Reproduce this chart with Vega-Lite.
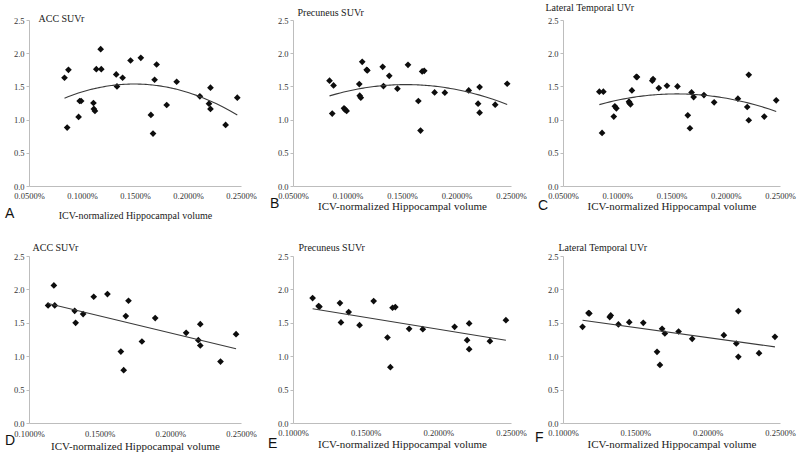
{
  "$schema": "https://vega.github.io/schema/vega-lite/v6.json",
  "background": "white",
  "padding": {"left": 5, "top": 2, "right": 2, "bottom": 2},
  "columns": 3,
  "bounds": "flush",
  "spacing": {"row": 70, "column": 52},
  "datasets": {
    "subj": [
      {"hv": 0.000835, "acc": 1.63, "prec": 1.586, "lat": 1.42},
      {"hv": 0.000860, "acc": 0.88, "prec": 1.09, "lat": 0.80},
      {"hv": 0.000872, "acc": 1.75, "prec": 1.515, "lat": 1.42},
      {"hv": 0.000968, "acc": 1.04, "prec": 1.17, "lat": 1.045},
      {"hv": 0.000978, "acc": 1.28, "prec": 1.15, "lat": 1.20},
      {"hv": 0.000992, "acc": 1.28, "prec": 1.13, "lat": 1.17},
      {"hv": 0.001108, "acc": 1.25, "prec": 1.535, "lat": 1.27},
      {"hv": 0.001112, "acc": 1.16, "prec": 1.36, "lat": 1.25},
      {"hv": 0.001122, "acc": 1.13, "prec": 1.33, "lat": 1.23},
      {"hv": 0.001135, "acc": 1.76, "prec": 1.87, "lat": 1.44},
      {"hv": 0.001176, "acc": 2.06, "prec": 1.75, "lat": 1.645},
      {"hv": 0.001182, "acc": 1.76, "prec": 1.74, "lat": 1.64},
      {"hv": 0.001323, "acc": 1.68, "prec": 1.795, "lat": 1.585},
      {"hv": 0.001330, "acc": 1.50, "prec": 1.505, "lat": 1.61},
      {"hv": 0.001383, "acc": 1.63, "prec": 1.66, "lat": 1.475},
      {"hv": 0.001458, "acc": 1.89, "prec": 1.465, "lat": 1.51},
      {"hv": 0.001555, "acc": 1.93, "prec": 1.825, "lat": 1.50},
      {"hv": 0.001650, "acc": 1.07, "prec": 1.28, "lat": 1.065},
      {"hv": 0.001670, "acc": 0.79, "prec": 0.835, "lat": 0.87},
      {"hv": 0.001685, "acc": 1.60, "prec": 1.725, "lat": 1.41},
      {"hv": 0.001704, "acc": 1.83, "prec": 1.735, "lat": 1.34},
      {"hv": 0.001799, "acc": 1.22, "prec": 1.41, "lat": 1.37},
      {"hv": 0.001893, "acc": 1.57, "prec": 1.405, "lat": 1.26},
      {"hv": 0.002112, "acc": 1.35, "prec": 1.44, "lat": 1.315},
      {"hv": 0.002198, "acc": 1.24, "prec": 1.24, "lat": 1.19},
      {"hv": 0.002212, "acc": 1.48, "prec": 1.49, "lat": 1.675},
      {"hv": 0.002212, "acc": 1.16, "prec": 1.105, "lat": 0.99},
      {"hv": 0.002355, "acc": 0.92, "prec": 1.225, "lat": 1.045},
      {"hv": 0.002465, "acc": 1.33, "prec": 1.54, "lat": 1.29}
    ]
  },
  "concat": [
    {
      "width": 212, "height": 166,
      "data": {"name": "subj"},
      "title": {"text": "A", "orient": "bottom", "anchor": "start", "frame": "group", "dx": -24, "offset": -14},
      "encoding": {
        "x": {"field": "hv", "type": "quantitative", "scale": {"domain": [0.0005, 0.0025], "nice": false, "zero": false},
              "axis": {"values": [0.0005, 0.001, 0.0015, 0.002, 0.0025], "format": ".4%", "title": "ICV-normalized Hippocampal volume", "titleFontSize": 10, "labelPadding": 5, "titlePadding": 11}},
        "y": {"field": "acc", "type": "quantitative", "scale": {"domain": [0, 2.5], "nice": false},
              "axis": {"values": [0, 0.5, 1, 1.5, 2, 2.5], "format": ".1f", "title": "ACC SUVr", "titleX": 9, "titleY": -2}}
      },
      "layer": [
        {"mark": {"type": "point", "shape": "diamond", "filled": true, "size": 45, "color": "#0d0d0d", "opacity": 1}},
        {"transform": [{"regression": "acc", "on": "hv", "method": "poly", "order": 2}],
         "mark": {"type": "line", "color": "#3a3a3a", "strokeWidth": 1.1}}
      ]
    },
    {
      "width": 218, "height": 166,
      "data": {"name": "subj"},
      "title": {"text": "B", "orient": "bottom", "anchor": "start", "frame": "group", "dx": -23, "offset": -14},
      "encoding": {
        "x": {"field": "hv", "type": "quantitative", "scale": {"domain": [0.0005, 0.0025], "nice": false, "zero": false},
              "axis": {"values": [0.0005, 0.001, 0.0015, 0.002, 0.0025], "format": ".4%", "title": "ICV-normalized Hippocampal volume", "labelPadding": 5.5, "titlePadding": 0}},
        "y": {"field": "prec", "type": "quantitative", "scale": {"domain": [0, 2.5], "nice": false},
              "axis": {"values": [0, 0.5, 1, 1.5, 2, 2.5], "format": ".1f", "title": "Precuneus SUVr", "titleX": 4, "titleY": -8}}
      },
      "layer": [
        {"mark": {"type": "point", "shape": "diamond", "filled": true, "size": 45, "color": "#0d0d0d", "opacity": 1}},
        {"transform": [{"regression": "prec", "on": "hv", "method": "poly", "order": 2}],
         "mark": {"type": "line", "color": "#3a3a3a", "strokeWidth": 1.1}}
      ]
    },
    {
      "width": 217, "height": 166,
      "data": {"name": "subj"},
      "title": {"text": "C", "orient": "bottom", "anchor": "start", "frame": "group", "dx": -25, "offset": -12},
      "encoding": {
        "x": {"field": "hv", "type": "quantitative", "scale": {"domain": [0.0005, 0.0025], "nice": false, "zero": false},
              "axis": {"values": [0.0005, 0.001, 0.0015, 0.002, 0.0025], "format": ".4%", "title": "ICV-normalized Hippocampal volume", "labelPadding": 5.5, "titlePadding": 0}},
        "y": {"field": "lat", "type": "quantitative", "scale": {"domain": [0, 2.5], "nice": false},
              "axis": {"values": [0, 0.5, 1, 1.5, 2, 2.5], "format": ".1f", "title": "Lateral Temporal  UVr", "titleX": -18, "titleY": -13}}
      },
      "layer": [
        {"mark": {"type": "point", "shape": "diamond", "filled": true, "size": 45, "color": "#0d0d0d", "opacity": 1}},
        {"transform": [{"regression": "lat", "on": "hv", "method": "poly", "order": 2}],
         "mark": {"type": "line", "color": "#3a3a3a", "strokeWidth": 1.1}}
      ]
    },
    {
      "width": 212, "height": 167,
      "data": {"name": "subj"},
      "transform": [{"filter": "datum.hv >= 0.00113"}],
      "title": {"text": "D", "orient": "bottom", "anchor": "start", "frame": "group", "dx": -24, "offset": -18},
      "encoding": {
        "x": {"field": "hv", "type": "quantitative", "scale": {"domain": [0.001, 0.0025], "nice": false, "zero": false},
              "axis": {"values": [0.001, 0.0015, 0.002, 0.0025], "format": ".4%", "title": "ICV-normalized Hippocampal volume", "labelPadding": 6, "titlePadding": 3}},
        "y": {"field": "acc", "type": "quantitative", "scale": {"domain": [0, 2.5], "nice": false},
              "axis": {"values": [0, 0.5, 1, 1.5, 2, 2.5], "format": ".1f", "title": "ACC SUVr", "titleX": 3, "titleY": -9}}
      },
      "layer": [
        {"mark": {"type": "point", "shape": "diamond", "filled": true, "size": 45, "color": "#0d0d0d", "opacity": 1}},
        {"transform": [{"regression": "acc", "on": "hv", "method": "linear"}],
         "mark": {"type": "line", "color": "#3a3a3a", "strokeWidth": 1.1}}
      ]
    },
    {
      "width": 218, "height": 167,
      "data": {"name": "subj"},
      "transform": [{"filter": "datum.hv >= 0.00113"}],
      "title": {"text": "E", "orient": "bottom", "anchor": "start", "frame": "group", "dx": -25, "offset": -13},
      "encoding": {
        "x": {"field": "hv", "type": "quantitative", "scale": {"domain": [0.001, 0.0025], "nice": false, "zero": false},
              "axis": {"values": [0.001, 0.0015, 0.002, 0.0025], "format": ".4%", "title": "ICV-normalized Hippocampal volume", "labelPadding": 5, "titlePadding": 2}},
        "y": {"field": "prec", "type": "quantitative", "scale": {"domain": [0, 2.5], "nice": false},
              "axis": {"values": [0, 0.5, 1, 1.5, 2, 2.5], "format": ".1f", "title": "Precuneus SUVr", "titleX": 5, "titleY": -9}}
      },
      "layer": [
        {"mark": {"type": "point", "shape": "diamond", "filled": true, "size": 45, "color": "#0d0d0d", "opacity": 1}},
        {"transform": [{"regression": "prec", "on": "hv", "method": "linear"}],
         "mark": {"type": "line", "color": "#3a3a3a", "strokeWidth": 1.1}}
      ]
    },
    {
      "width": 217, "height": 167,
      "data": {"name": "subj"},
      "transform": [{"filter": "datum.hv >= 0.00113"}],
      "title": {"text": "F", "orient": "bottom", "anchor": "start", "frame": "group", "dx": -28, "offset": -19},
      "encoding": {
        "x": {"field": "hv", "type": "quantitative", "scale": {"domain": [0.001, 0.0025], "nice": false, "zero": false},
              "axis": {"values": [0.001, 0.0015, 0.002, 0.0025], "format": ".4%", "title": "ICV-normalized Hippocampal volume", "labelPadding": 5, "titlePadding": 2}},
        "y": {"field": "lat", "type": "quantitative", "scale": {"domain": [0, 2.5], "nice": false},
              "axis": {"values": [0, 0.5, 1, 1.5, 2, 2.5], "format": ".1f", "title": "Lateral Temporal  UVr", "titleX": -5, "titleY": -9}}
      },
      "layer": [
        {"mark": {"type": "point", "shape": "diamond", "filled": true, "size": 45, "color": "#0d0d0d", "opacity": 1}},
        {"transform": [{"regression": "lat", "on": "hv", "method": "linear"}],
         "mark": {"type": "line", "color": "#3a3a3a", "strokeWidth": 1.1}}
      ]
    }
  ],
  "config": {
    "view": {"stroke": null},
    "font": "Liberation Serif",
    "title": {"font": "Liberation Sans", "fontSize": 14, "fontWeight": "normal", "color": "#111", "baseline": "top"},
    "axis": {
      "grid": false,
      "domainColor": "#bdbdbd",
      "domainWidth": 1,
      "tickColor": "#bdbdbd",
      "labelFont": "Liberation Serif",
      "labelFontSize": 8.5,
      "labelColor": "#333",
      "titleFont": "Liberation Serif",
      "titleFontWeight": "normal",
      "titleColor": "#1a1a1a",
      "titleFontSize": 11
    },
    "axisX": {"ticks": false, "labelFlush": false, "labelOverlap": false},
    "axisY": {"ticks": true, "tickSize": 3, "labelPadding": 2, "titleAngle": 0, "titleAlign": "left", "titleBaseline": "middle", "titleFontSize": 10}
  }
}
